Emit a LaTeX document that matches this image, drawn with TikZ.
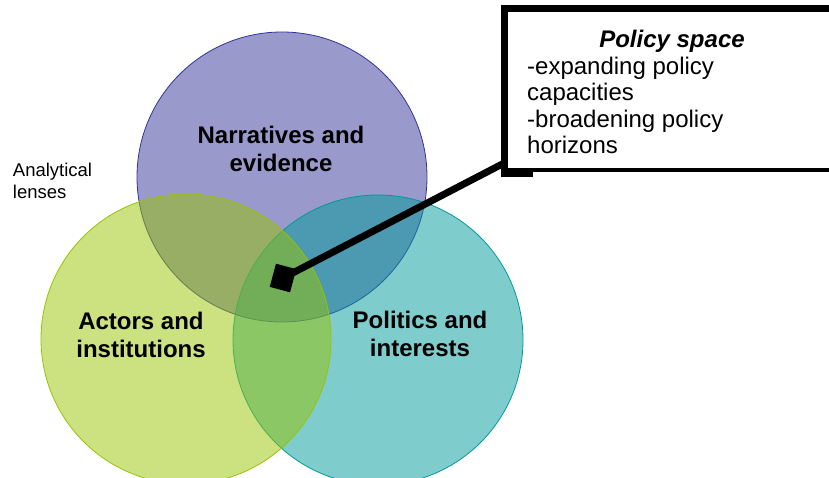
\documentclass[tikz,border=0pt]{standalone}
\usepackage{fontspec}
\setmainfont{Liberation Sans}
\definecolor{vpurple}{RGB}{51,51,153}
\definecolor{vteal}{RGB}{0,153,153}
\definecolor{vgreen}{RGB}{153,195,0}
\begin{document}
\begin{tikzpicture}[x=1pt,y=-1pt,
  venn/.style={circle,minimum size=290pt,inner sep=0pt,fill opacity=0.5,line width=0.8pt},
  lbl/.style={font=\fontsize{24}{28.5}\selectfont\bfseries,align=center,inner sep=0pt},
  txt/.style={font=\fontsize{24}{26.5}\selectfont,align=left,inner sep=0pt},
  callout/.style={draw=black,line width=3.5pt,minimum width=338.5pt,minimum height=159.3pt,inner sep=0pt}]
\useasboundingbox (0,0) rectangle (829,478);
% circles (purple, teal, green order)
\node[venn,fill=vpurple,draw=vpurple] (nar) at (282,177) {};
\node[venn,fill=vteal,draw=vteal] (pol) at (378,340) {};
\node[venn,fill=vgreen,draw=vgreen] (act) at (186,339) {};
% labels
\node[lbl] (narl) at (281,149) {Narratives and\\evidence};
\node[lbl] (actl) at (141,335) {Actors and\\institutions};
\node[lbl] (poll) at (420,334) {Politics and\\interests};
\node[font=\fontsize{18.5}{22}\selectfont,align=left,inner sep=0pt] (lens) at (52.5,181) {Analytical\\lenses};
% callout box
\node[callout] (box) at (675.75,90.35) {};
\draw[line width=7pt] (box.south west) -- (box.north west) -- (box.north east);
\draw[line width=8pt] ([xshift=-3.5pt,yshift=-1pt]box.south west) -- ([xshift=28.5pt,yshift=-1pt]box.south west);
\node[font=\fontsize{24}{28}\selectfont\bfseries\itshape,inner sep=0pt] (ptitle) at (672,41.5) {Policy space};
\node[txt,anchor=base west] (ptext) at (527,154) {-expanding policy\\capacities\\-broadening policy\\horizons};
% marker and connector
\node[fill=black,minimum width=21pt,minimum height=24pt,inner sep=0pt,rotate=-15] (sq) at (283,278) {};
\draw[line width=7pt] (sq.center) -- ([yshift=9pt]box.south west);
\end{tikzpicture}
\end{document}
